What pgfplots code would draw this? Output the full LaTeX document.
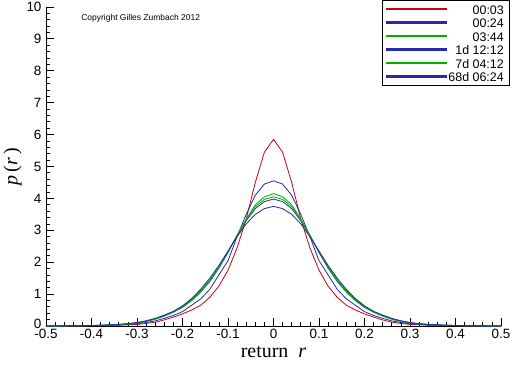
\documentclass[border=0pt]{standalone}
\usepackage{pgfplots}
\pgfplotsset{compat=1.18}
\usepackage{pgfplotstable}
\usepackage{fontspec}
\setmainfont{Liberation Sans}
\newfontfamily\serif{Liberation Serif}
\definecolor{cred}{RGB}{200,0,25}
\definecolor{cblue}{RGB}{40,40,175}
\definecolor{cgreen}{RGB}{0,175,0}
\newcommand{\ls}{\rule[-4bp]{0pt}{16bp}}
\pgfplotstableread{
x a b c d e f
-0.50 0 .001 .001 .001 .001 .001
-0.48 .001 .002 .002 .002 .002 .002
-0.46 .002 .003 .004 .004 .004 .004
-0.44 .003 .005 .006 .007 .006 .007
-0.42 .005 .008 .01 .01 .01 .011
-0.40 .008 .012 .014 .015 .015 .016
-0.38 .012 .018 .02 .022 .021 .024
-0.36 .018 .025 .03 .032 .031 .035
-0.34 .025 .035 .045 .046 .045 .05
-0.32 .035 .05 .065 .068 .067 .075
-0.30 .05 .07 .09 .1 .1 .11
-0.28 .08 .11 .14 .16 .15 .16
-0.26 .12 .16 .21 .23 .22 .24
-0.24 .19 .24 .31 .33 .32 .34
-0.22 .28 .33 .43 .45 .44 .46
-0.20 .38 .45 .58 .61 .6 .63
-0.18 .5 .65 .79 .83 .82 .86
-0.16 .65 .85 1.06 1.1 1.1 1.15
-0.14 .9 1.15 1.39 1.43 1.44 1.5
-0.12 1.25 1.6 1.81 1.84 1.85 1.9
-0.10 1.75 2.05 2.3 2.32 2.33 2.35
-0.08 2.45 2.8 2.85 2.83 2.84 2.8
-0.06 3.35 3.5 3.35 3.3 3.32 3.2
-0.04 4.5 4.1 3.8 3.68 3.74 3.5
-0.02 5.45 4.45 4.05 3.9 3.97 3.68
0.00 5.85 4.55 4.15 3.98 4.05 3.75
0.02 5.45 4.45 4.05 3.9 3.97 3.68
0.04 4.5 4.1 3.8 3.68 3.74 3.5
0.06 3.35 3.5 3.35 3.3 3.32 3.2
0.08 2.45 2.8 2.85 2.83 2.84 2.8
0.10 1.75 2.05 2.3 2.32 2.33 2.35
0.12 1.25 1.6 1.81 1.84 1.85 1.9
0.14 .9 1.15 1.39 1.43 1.44 1.5
0.16 .65 .85 1.06 1.1 1.1 1.15
0.18 .5 .65 .79 .83 .82 .86
0.20 .38 .45 .58 .61 .6 .63
0.22 .28 .33 .43 .45 .44 .46
0.24 .19 .24 .31 .33 .32 .34
0.26 .12 .16 .21 .23 .22 .24
0.28 .08 .11 .14 .16 .15 .16
0.30 .05 .07 .09 .1 .1 .11
0.32 .035 .05 .065 .068 .067 .075
0.34 .025 .035 .045 .046 .045 .05
0.36 .018 .025 .03 .032 .031 .035
0.38 .012 .018 .02 .022 .021 .024
0.40 .008 .012 .014 .015 .015 .016
0.42 .005 .008 .01 .01 .01 .011
0.44 .003 .005 .006 .007 .006 .007
0.46 .002 .003 .004 .004 .004 .004
0.48 .001 .002 .002 .002 .002 .002
0.50 0 .001 .001 .001 .001 .001
}\data
\begin{document}
\begin{tikzpicture}
\begin{axis}[
  scale only axis, width=455bp, height=319bp,
  xmin=-0.5, xmax=0.5, ymin=0, ymax=10,
  axis x line*=bottom, axis y line*=left,
  axis line style={-, black, line width=0.8bp},
  xtick={-0.5,-0.4,...,0.5}, ytick={0,1,...,10},
  minor x tick num=4, minor y tick num=4,
  tick align=inside,
  major tick length=8bp, minor tick length=4bp,
  tick style={black, line width=0.8bp},
  /pgf/number format/assume math mode=true,
  /pgf/number format/fixed,
  ticklabel style={font=\fontsize{13.5}{15}\selectfont},
  yticklabel style={xshift=-1bp},
  yticklabel={\ifdim\tick pt<0.5pt \raisebox{4bp}{0}\else\pgfmathprintnumber{\tick}\fi},
  xlabel={{\serif return\ \ \textit{r}}},
  ylabel={{\serif \textit{p}\,(\textit{r}\,)}},
  xlabel style={font=\fontsize{20}{22}\selectfont},
  ylabel style={font=\fontsize{20}{22}\selectfont, yshift=-2bp},
  legend style={at={(1,1)}, anchor=north east, xshift=8bp, yshift=7bp,
    font=\fontsize{12.5}{14}\selectfont,
    row sep=0bp, inner xsep=3bp, inner ysep=2bp,
    nodes={inner ysep=0bp}},
  legend cell align=right,
  every axis plot/.append style={line width=0.8bp},
]
\addlegendimage{legend image code/.code={\fill[cred] (0bp,-0.6bp) rectangle (60bp,0.6bp);}}
\addlegendentry{\ls 00:03}
\addlegendimage{legend image code/.code={\fill[cblue] (0bp,-0.6bp) rectangle (60bp,0.6bp);}}
\addlegendentry{\ls 00:24}
\addlegendimage{legend image code/.code={\fill[cgreen] (0bp,-0.6bp) rectangle (60bp,0.6bp);}}
\addlegendentry{\ls 03:44}
\addlegendimage{legend image code/.code={\fill[cblue] (0bp,-0.6bp) rectangle (60bp,0.6bp);}}
\addlegendentry{\ls 1d 12:12}
\addlegendimage{legend image code/.code={\fill[cgreen] (0bp,-0.6bp) rectangle (60bp,0.6bp);}}
\addlegendentry{\ls 7d 04:12}
\addlegendimage{legend image code/.code={\fill[cblue] (0bp,-0.6bp) rectangle (60bp,0.6bp);}}
\addlegendentry{\ls 68d 06:24}
\addplot[cred, forget plot] table[x=x,y=a]{\data};
\addplot[cblue, forget plot] table[x=x,y=b]{\data};
\addplot[cgreen, forget plot] table[x=x,y=c]{\data};
\addplot[cblue, forget plot] table[x=x,y=d]{\data};
\addplot[cgreen, forget plot] table[x=x,y=e]{\data};
\addplot[cblue, forget plot] table[x=x,y=f]{\data};
\node[anchor=west, font=\fontsize{8.5}{10}\selectfont] at (rel axis cs:0.07,0.966) {Copyright Gilles Zumbach 2012};
\coordinate (ll) at (rel axis cs:0,0);
\end{axis}
\pgfresetboundingbox
\path (ll) ++(-46bp,-40bp) rectangle ++(512bp,366bp);
\end{tikzpicture}
\end{document}
